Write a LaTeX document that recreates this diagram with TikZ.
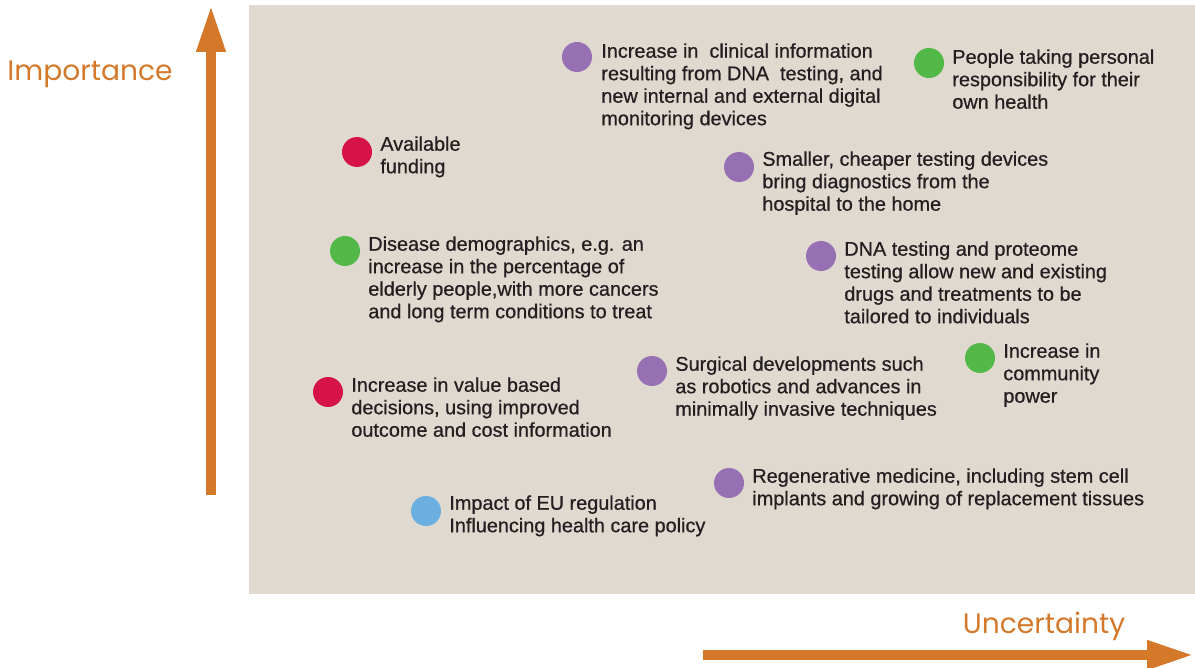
\documentclass[tikz,border=0pt]{standalone}
\usepackage{fontspec}
\setmainfont{Liberation Sans}
\newfontfamily\driverfont{Liberation Sans}[FakeBold=0.6]
\newfontfamily\axisfont{Poppins}
\usetikzlibrary{arrows.meta,positioning}
\definecolor{ChartBeige}{HTML}{DFD9D0}
\definecolor{ChartOrange}{HTML}{D4782A}
\definecolor{ChartText}{HTML}{231F20}
\definecolor{ChartPurple}{HTML}{9670B2}
\definecolor{ChartGreen}{HTML}{52B848}
\definecolor{ChartRed}{HTML}{D6124A}
\definecolor{ChartBlue}{HTML}{6AAFE0}
\tikzset{
    % Dot for one driver
    dotnode/.style={
        circle,
        inner sep=0pt,
        minimum size=0.6cm
    },
    purpledot/.style={dotnode,fill=ChartPurple},
    greendot/.style={dotnode,fill=ChartGreen},
    reddot/.style={dotnode,fill=ChartRed},
    bluedot/.style={dotnode,fill=ChartBlue},
    % Driver text
    drivertext/.style={
        anchor=north west,
        inner sep=0pt,
        align=left,
        text=ChartText,
        font=\driverfont\fontsize{11.3pt}{12.8pt}\selectfont
    },
    % Axis labels
    axislabel/.style={
        inner sep=0pt,
        text=ChartOrange,
        font=\axisfont\fontsize{16pt}{18pt}\selectfont
    },
    % Axis arrows
    axisarrow/.style={
        -{Triangle[length=0.94cm,width=0.54cm]},
        line width=0.2cm,
        draw=ChartOrange
    }
}
\begin{document}
\begin{tikzpicture}[x=0.02cm,y=-0.02cm]
    \useasboundingbox (0,0) rectangle (1195,668);
    \fill[ChartBeige] (249,5) rectangle (1195,594);
    % axes
    \coordinate (ybase) at (211,495);
    \coordinate (ytip) at (211,5);
    \coordinate (xbase) at (703,655);
    \coordinate (xtip) at (1194,655);
    \draw[axisarrow] (ybase) -- (ytip);
    \draw[axisarrow] (xbase) -- (xtip);
    \node[axislabel] (imp) at (90,74) {Importance};
    \node[axislabel] (unc) at (1044,626) {Uncertainty};
    % drivers
    \node[purpledot] (d1) at (577,57) {};
    \node[drivertext] (t1) at (601,43) {Increase in\ \ clinical information\\resulting from DNA\ \ testing, and\\new internal and external digital\\monitoring devices};
    \node[greendot] (d2) at (929,63) {};
    \node[drivertext] (t2) at (952,49) {People taking personal\\responsibility for their\\own health};
    \node[reddot] (d3) at (357,152) {};
    \node[drivertext] (t3) at (380,136) {Available\\funding};
    \node[purpledot] (d4) at (739,167) {};
    \node[drivertext] (t4) at (762,151) {Smaller, cheaper testing devices\\bring diagnostics from the\\hospital to the home};
    \node[greendot] (d5) at (345,251) {};
    \node[drivertext] (t5) at (368,236) {Disease demographics, e.g. an\\increase in the percentage of\\elderly people,with more cancers\\and long term conditions to treat};
    \node[purpledot] (d6) at (821,256) {};
    \node[drivertext] (t6) at (844,241) {DNA testing and proteome\\testing allow new and existing\\drugs and treatments to be\\tailored to individuals};
    \node[purpledot] (d7) at (652,371) {};
    \node[drivertext] (t7) at (675,356) {Surgical developments such\\as robotics and advances in\\minimally invasive techniques};
    \node[greendot] (d8) at (980,358) {};
    \node[drivertext] (t8) at (1003,343) {Increase in\\community\\power};
    \node[reddot] (d9) at (328,392) {};
    \node[drivertext] (t9) at (351,377) {Increase in value based\\decisions, using improved\\outcome and cost information};
    \node[purpledot] (d10) at (729,483) {};
    \node[drivertext] (t10) at (752,468) {Regenerative medicine, including stem cell\\implants and growing of replacement tissues};
    \node[bluedot] (d11) at (426,511) {};
    \node[drivertext] (t11) at (449,495) {Impact of EU regulation\\Influencing health care policy};
\end{tikzpicture}
\end{document}
